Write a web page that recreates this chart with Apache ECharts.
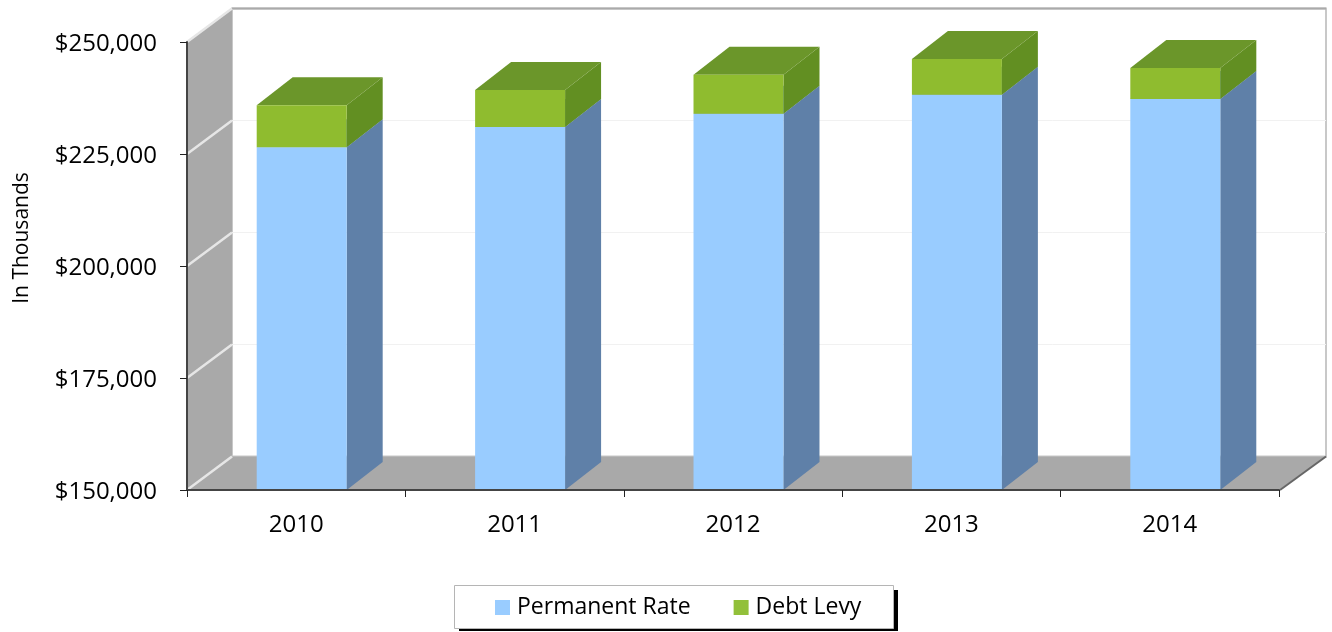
<!DOCTYPE html>
<html>
<head>
<meta charset="utf-8">
<title>Permanent Rate and Debt Levy</title>
<script src="https://cdn.jsdelivr.net/npm/echarts@6/dist/echarts.min.js"></script>
<style>
  html, body { margin: 0; padding: 0; background: #fff; }
  #chart-panel { width: 1332px; height: 632px; }
</style>
</head>
<body>
<div id="chart-panel"></div>
<script>
var years = ['2010', '2011', '2012', '2013', '2014'];
var permanentRate = [226500, 231000, 234000, 238200, 237300];
var debtLevy = [9400, 8300, 8700, 8000, 6900];
var axisTicks = [150000, 175000, 200000, 225000, 250000];

var chart = document.getElementById('chart-panel');
var myChart = echarts.init(chart);

// 3d look: how far the walls and the bars go back, in pixels
var WALL_DX = 45, WALL_DX_RIGHT = 47, WALL_DY = 33.5;
var BAR_DX = 36, BAR_DY = 28;
var BAR_RATIO = 0.412, BAR_SHIFT = 5.5;
var FONT = '"Open Sans", sans-serif';

function poly(points, color) {
  return { type: 'polygon', shape: { points: points }, style: { fill: color } };
}

function renderWalls(params, api) {
  var c = params.coordSys;
  var l = c.x, r = c.x + c.width, t = c.y, b = c.y + c.height;
  var grey = '#a9a9a9';
  return {
    type: 'group',
    children: [
      // back wall
      {
        type: 'rect',
        shape: { x: l + WALL_DX, y: t - WALL_DY, width: r + WALL_DX_RIGHT - l - WALL_DX, height: c.height },
        style: { fill: '#fff', stroke: '#c8c8c8', lineWidth: 2 }
      },
      {
        type: 'line',
        shape: { x1: l + WALL_DX, y1: t - WALL_DY, x2: r + WALL_DX_RIGHT, y2: t - WALL_DY },
        style: { stroke: '#aaa', lineWidth: 2 }
      },
      // side wall and floor
      poly([[l, t], [l + WALL_DX, t - WALL_DY], [l + WALL_DX, b - WALL_DY], [l, b]], grey),
      poly([[l, b], [l + WALL_DX, b - WALL_DY], [r + WALL_DX_RIGHT, b - WALL_DY], [r, b]], grey),
      {
        type: 'line',
        shape: { x1: r + 1, y1: b, x2: r + WALL_DX_RIGHT, y2: b - WALL_DY },
        style: { stroke: '#666', lineWidth: 2 }
      }
    ]
  };
}

function renderTick(params, api) {
  var value = api.value(1);
  var p = api.coord([0, value]);
  var c = params.coordSys;
  var x = c.x, y = p[1];
  var children = [
    {
      type: 'line',
      shape: { x1: x, y1: y, x2: x + WALL_DX, y2: y - WALL_DY },
      style: { stroke: '#e6e6e6', lineWidth: 2.5 }
    }
  ];
  // the back wall only has the inner gridlines
  if (value > axisTicks[0] && value < axisTicks[axisTicks.length - 1]) {
    children.unshift({
      type: 'line',
      shape: { x1: x + WALL_DX, y1: y - WALL_DY, x2: x + WALL_DX_RIGHT + c.width, y2: y - WALL_DY },
      style: { stroke: '#f1f1f1', lineWidth: 1 }
    });
  }
  return { type: 'group', children: children };
}

function bar3d(front, side, top) {
  return function (params, api) {
    var band = api.size([1, 0])[0];
    var w = band * BAR_RATIO;
    var low = api.coord([api.value(0), api.value(1)]);
    var high = api.coord([api.value(0), api.value(2)]);
    var x0 = low[0] - w / 2 + BAR_SHIFT, x1 = x0 + w;
    var y0 = low[1], y1 = high[1];
    return {
      type: 'group',
      children: [
        poly([[x1, y0], [x1 + BAR_DX, y0 - BAR_DY], [x1 + BAR_DX, y1 - BAR_DY], [x1, y1]], side),
        poly([[x0, y1], [x0 + BAR_DX, y1 - BAR_DY], [x1 + BAR_DX, y1 - BAR_DY], [x1, y1]], top),
        poly([[x0, y0], [x1, y0], [x1, y1], [x0, y1]], front)
      ]
    };
  };
}

var blueData = years.map(function (y, i) {
  return [i, axisTicks[0], permanentRate[i]];
});
var greenData = years.map(function (y, i) {
  return [i, permanentRate[i], permanentRate[i] + debtLevy[i]];
});
var tickData = axisTicks.map(function (v) { return [0, v]; });

var option = {
  animation: false,
  backgroundColor: '#fff',
  textStyle: { fontFamily: FONT },
  grid: { left: 187, right: 53, top: 42, bottom: 142 },
  legend: {
    data: ['Permanent Rate', 'Debt Levy'],
    left: 495,
    top: 596,
    padding: 0,
    z: 10,
    itemGap: 43,
    itemWidth: 15,
    itemHeight: 15,
    icon: 'rect',
    textStyle: { color: '#000', fontSize: 23, fontFamily: FONT, padding: [0, 0, 0, 2] }
  },
  graphic: [
    {
      type: 'text',
      x: 22,
      y: 238,
      rotation: Math.PI / 2,
      style: {
        text: 'In Thousands',
        fill: '#000',
        font: '21px ' + FONT,
        textAlign: 'center',
        textVerticalAlign: 'middle'
      }
    },
    // legend box with its hard shadow
    {
      type: 'rect',
      z: 1,
      shape: { x: 459, y: 590, width: 439, height: 41 },
      style: { fill: '#000' }
    },
    {
      type: 'rect',
      z: 2,
      shape: { x: 454.5, y: 585.5, width: 439, height: 43 },
      style: { fill: '#fff', stroke: '#b5b5b5', lineWidth: 1 }
    }
  ],
  xAxis: {
    type: 'category',
    data: years,
    z: 5,
    axisLine: { lineStyle: { color: '#444', width: 2 } },
    axisTick: { show: true, length: 7, lineStyle: { color: '#222', width: 1 } },
    axisLabel: { color: '#000', fontSize: 24, margin: 23, fontFamily: FONT }
  },
  yAxis: {
    type: 'value',
    min: 150000,
    max: 250000,
    interval: 25000,
    z: 5,
    axisLine: { show: true, lineStyle: { color: '#444', width: 2 } },
    axisTick: { show: true, length: 7, lineStyle: { color: '#222', width: 1 } },
    splitLine: { show: false },
    axisLabel: {
      color: '#000',
      fontSize: 24,
      margin: 30,
      fontFamily: FONT,
      verticalAlign: 'top',
      lineHeight: 4,
      formatter: function (v) { return '$' + v.toLocaleString('en-US'); }
    }
  },
  series: [
    {
      type: 'custom',
      name: 'walls',
      silent: true,
      clip: false,
      z: 1,
      renderItem: renderWalls,
      data: [[0, axisTicks[0]]]
    },
    {
      type: 'custom',
      name: 'ticks',
      silent: true,
      clip: false,
      z: 1,
      renderItem: renderTick,
      data: tickData
    },
    {
      type: 'custom',
      name: 'Permanent Rate',
      clip: false,
      z: 2,
      itemStyle: { color: '#99ccff' },
      encode: { x: 0, y: [1, 2] },
      renderItem: bar3d('#99ccff', '#5f80a8', '#6d92bf'),
      data: blueData
    },
    {
      type: 'custom',
      name: 'Debt Levy',
      clip: false,
      z: 3,
      itemStyle: { color: '#92c03a' },
      encode: { x: 0, y: [1, 2] },
      renderItem: bar3d('#8fbc2f', '#628f22', '#6b962a'),
      data: greenData
    }
  ]
};

myChart.setOption(option);
</script>
</body>
</html>
